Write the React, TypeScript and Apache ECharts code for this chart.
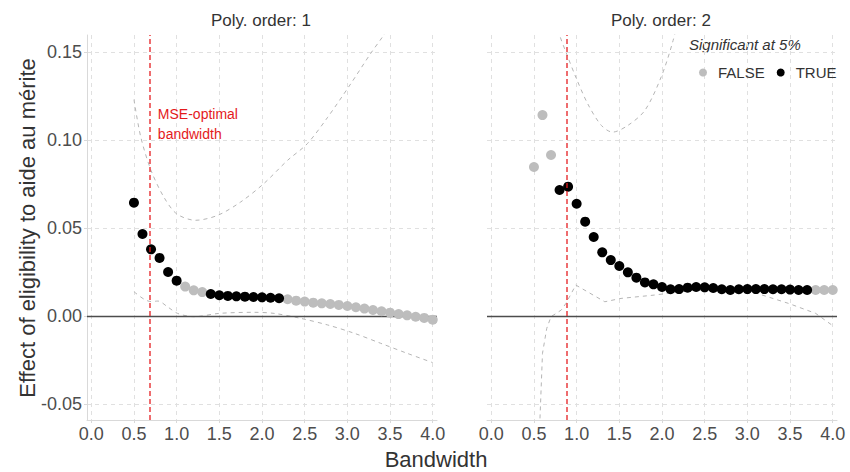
import React, { useEffect, useRef } from "react";
import * as echarts from "echarts";

const bandwidth = [
  0.5, 0.6, 0.7, 0.8, 0.9, 1.0, 1.1, 1.2, 1.3, 1.4, 1.5, 1.6, 1.7, 1.8, 1.9, 2.0, 2.1, 2.2,
  2.3, 2.4, 2.5, 2.6, 2.7, 2.8, 2.9, 3.0, 3.1, 3.2, 3.3, 3.4, 3.5, 3.6, 3.7, 3.8, 3.9, 4.0,
];

const estOrder1 = [
  0.0644, 0.0466, 0.0379, 0.033, 0.025, 0.0201, 0.0167, 0.0146, 0.0136, 0.0125, 0.0118, 0.0114,
  0.0112, 0.011, 0.0108, 0.0106, 0.0104, 0.0101, 0.0095, 0.0087, 0.0082, 0.0076, 0.0072, 0.0068,
  0.0063, 0.0057, 0.005, 0.0042, 0.0034, 0.0027, 0.0019, 0.0011, 0.0004, -0.0004, -0.0011, -0.0021,
];
const sigOrder1 = [
  true, true, true, true, true, true, false, false, false, true, true, true,
  true, true, true, true, true, true, false, false, false, false, false, false,
  false, false, false, false, false, false, false, false, false, false, false, false,
];

const estOrder2 = [
  0.0847, 0.1142, 0.0915, 0.0716, 0.0735, 0.0638, 0.0536, 0.0449, 0.0362, 0.0318, 0.0284, 0.0248,
  0.0218, 0.0191, 0.018, 0.0165, 0.0152, 0.0153, 0.0161, 0.0165, 0.0163, 0.0159, 0.0152, 0.0148,
  0.0152, 0.0153, 0.0153, 0.0153, 0.0152, 0.0152, 0.015, 0.0148, 0.0148, 0.0148, 0.0148, 0.0148,
];
const sigOrder2 = [
  false, false, false, true, true, true, true, true, true, true, true, true,
  true, true, true, true, true, true, true, true, true, true, true, true,
  true, true, true, true, true, true, true, true, true, false, false, false,
];

// confidence bands, [bandwidth, value]
const ciUpper1 = [
  [0.5, 0.123], [0.58, 0.1017], [0.7, 0.0828], [0.85, 0.0676], [1.0, 0.0581], [1.22, 0.0544],
  [1.48, 0.0572], [1.75, 0.0648], [2.02, 0.0752], [2.3, 0.0885], [2.53, 0.0979], [2.77, 0.113],
  [3.04, 0.132], [3.27, 0.149], [3.41, 0.1585], [3.6, 0.172], [4.0, 0.2],
];
const ciLower1 = [
  [0.5, 0.0138], [0.62, 0.0095], [0.7, 0.0082], [0.78, 0.0085], [0.9, 0.005], [1.01, 0.0015],
  [1.2, -0.0004], [1.5, 0.0015], [1.9, 0.0021], [2.14, 0.0015], [2.45, -0.0013], [2.77, -0.0051],
  [3.08, -0.0098], [3.39, -0.0155], [3.7, -0.0212], [4.0, -0.0265],
];
const ciUpper2 = [
  [0.7, 0.185], [0.8, 0.16], [0.875, 0.15], [0.99, 0.1358], [1.13, 0.1206], [1.29, 0.1083],
  [1.42, 0.1045], [1.6, 0.1083], [1.8, 0.1169], [1.99, 0.1358], [2.13, 0.1566], [2.3, 0.19],
  [2.6, 0.25],
];
const ciLower2 = [
  [0.55, -0.09], [0.57, -0.059], [0.6, -0.0212], [0.65, -0.007], [0.7, -0.0004], [0.82, 0.0034],
  [0.875, 0.0072], [0.99, 0.0176], [1.33, 0.0081], [1.52, 0.01], [1.91, 0.0119], [2.31, 0.0144],
  [2.7, 0.0152], [3.09, 0.0132], [3.48, 0.0072], [3.8, 0.0015], [4.0, -0.0055],
];

const mseOptimal = [0.69, 0.875];
const xTicks = [0, 0.5, 1, 1.5, 2, 2.5, 3, 3.5, 4];
const yTicks = [-0.05, 0, 0.05, 0.1, 0.15];
const panelTitles = ["Poly. order: 1", "Poly. order: 2"];
const legendTitle = "Significant at 5%";
const annotation = "MSE-optimal\nbandwidth";

const FONT = "Liberation Sans, Arial, Helvetica, sans-serif";
const GRAY_PT = "#bdbdbd";
const RED = "#e41a1c";

export default function App() {
  const ref = useRef<HTMLDivElement>(null);

  useEffect(() => {
    if (!ref.current) return;
    const chart = echarts.init(ref.current, null, { renderer: "svg" });

    const grids = [
      { left: 87, top: 35, width: 350, height: 385 },
      { left: 487, top: 35, width: 350, height: 385 },
    ];

    const xAxes = [0, 1].map((i) => ({
      type: "value",
      gridIndex: i,
      min: -0.05,
      max: 4.05,
      axisLine: { show: true, onZero: false, lineStyle: { color: "#d9d9d9", width: 1 } },
      axisTick: { show: true, length: 3, customValues: xTicks, lineStyle: { color: "#d9d9d9" } },
      axisLabel: {
        customValues: xTicks,
        formatter: (v: number) => v.toFixed(1),
        fontSize: 18,
        color: "#4d4d4d",
        fontFamily: FONT,
        margin: 5,
      },
      splitLine: { show: true, lineStyle: { type: [4, 4], color: "#e0e0e0", width: 1 } },
    }));

    const yAxes = [0, 1].map((i) => ({
      type: "value",
      gridIndex: i,
      min: -0.0591,
      max: 0.1597,
      axisLine: { show: i === 0, onZero: false, lineStyle: { color: "#d9d9d9", width: 1 } },
      axisTick: { show: i === 0, length: 3, customValues: yTicks, lineStyle: { color: "#d9d9d9" } },
      axisLabel: {
        show: i === 0,
        customValues: yTicks,
        formatter: (v: number) => v.toFixed(2),
        fontSize: 18,
        color: "#4d4d4d",
        fontFamily: FONT,
        margin: 5,
      },
      splitLine: { show: true, lineStyle: { type: [4, 4], color: "#e0e0e0", width: 1 } },
    }));

    const panels = [
      { est: estOrder1, sig: sigOrder1, up: ciUpper1, lo: ciLower1 },
      { est: estOrder2, sig: sigOrder2, up: ciUpper2, lo: ciLower2 },
    ];

    const series: any[] = [];
    panels.forEach((p, i) => {
      const ciStyle = { color: "#b5b5b5", width: 1, type: [4, 4] };
      series.push({
        type: "line",
        xAxisIndex: i,
        yAxisIndex: i,
        data: p.up,
        showSymbol: false,
        smooth: 0.3,
        lineStyle: ciStyle,
        silent: true,
        z: 2,
      });
      series.push({
        type: "line",
        xAxisIndex: i,
        yAxisIndex: i,
        data: p.lo,
        showSymbol: false,
        smooth: i === 0 ? 0.3 : false,
        lineStyle: ciStyle,
        silent: true,
        z: 2,
        markLine: {
          silent: true,
          symbol: "none",
          label: { show: false },
          lineStyle: { color: "#4d4d4d", width: 1.3, type: "solid" },
          data: [{ yAxis: 0 }],
          z: 3,
        },
      });
      series.push({
        name: "FALSE",
        type: "scatter",
        xAxisIndex: i,
        yAxisIndex: i,
        symbolSize: 10,
        itemStyle: { color: GRAY_PT, opacity: 1 },
        data: bandwidth.map((b, k) => [b, p.est[k]]).filter((_, k) => !p.sig[k]),
        z: 4,
      });
      series.push({
        name: "TRUE",
        type: "scatter",
        xAxisIndex: i,
        yAxisIndex: i,
        symbolSize: 10,
        itemStyle: { color: "#000000", opacity: 1 },
        data: bandwidth.map((b, k) => [b, p.est[k]]).filter((_, k) => p.sig[k]),
        z: 4,
      });
      series.push({
        type: "line",
        xAxisIndex: i,
        yAxisIndex: i,
        data: [],
        silent: true,
        z: 5,
        markLine: {
          silent: true,
          symbol: "none",
          label: { show: false },
          lineStyle: { color: RED, width: 1.5, type: [5, 3], opacity: 0.85 },
          data: [{ xAxis: mseOptimal[i] }],
        },
        markPoint:
          i === 0
            ? {
                silent: true,
                symbol: "circle",
                symbolSize: 0,
                data: [
                  {
                    coord: [0.78, 0.109],
                    label: {
                      show: true,
                      position: "right",
                      distance: 0,
                      formatter: annotation,
                      color: RED,
                      fontSize: 14,
                      lineHeight: 20,
                      fontFamily: FONT,
                      align: "left",
                    },
                  },
                ],
              }
            : undefined,
      });
    });

    const option: any = {
      animation: false,
      backgroundColor: "#ffffff",
      grid: grids,
      xAxis: xAxes,
      yAxis: yAxes,
      legend: {
        data: ["FALSE", "TRUE"],
        left: 694,
        top: 60,
        orient: "horizontal",
        icon: "circle",
        itemWidth: 8,
        itemHeight: 8,
        itemGap: 12,
        selectedMode: false,
        textStyle: {
          fontSize: 15,
          color: "#333333",
          fontFamily: FONT,
          padding: [0, 0, 0, 6],
        },
      },
      graphic: [
        {
          type: "text",
          left: 262 - 51,
          top: 12,
          style: { text: panelTitles[0], fill: "#333333", font: `17px ${FONT}` },
        },
        {
          type: "text",
          left: 662 - 51,
          top: 12,
          style: { text: panelTitles[1], fill: "#333333", font: `17px ${FONT}` },
        },
        {
          type: "text",
          left: 689,
          top: 37,
          style: { text: legendTitle, fill: "#333333", font: `italic 15px ${FONT}` },
        },
        {
          type: "text",
          x: 436,
          y: 459,
          style: {
            text: "Bandwidth",
            fill: "#333333",
            font: `22px ${FONT}`,
            textAlign: "center",
            textVerticalAlign: "middle",
          },
        },
        {
          type: "text",
          x: 27,
          y: 228,
          rotation: Math.PI / 2,
          style: {
            text: "Effect of eligibility to aide au mérite",
            fill: "#333333",
            font: `22px ${FONT}`,
            textAlign: "center",
            textVerticalAlign: "middle",
          },
        },
      ],
      series,
    };

    chart.setOption(option);
    return () => chart.dispose();
  }, []);

  return <div ref={ref} style={{ width: 850, height: 472, position: "absolute", left: 0, top: 0 }} />;
}
